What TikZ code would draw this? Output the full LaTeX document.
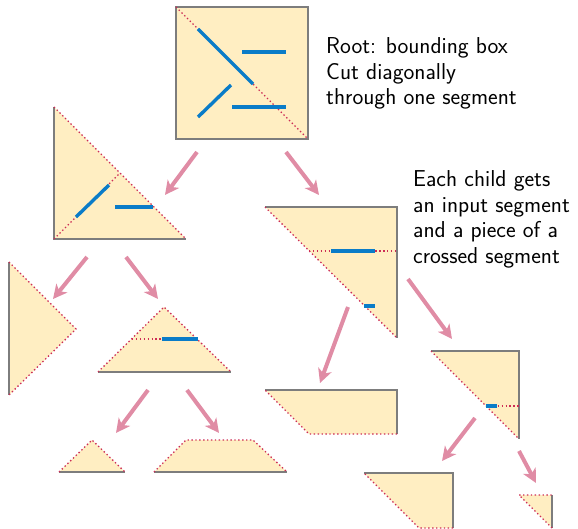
\documentclass[tikz,border=0pt]{standalone}
\usetikzlibrary{arrows.meta}
\definecolor{piecefill}{RGB}{255,238,194}
\definecolor{edgegray}{RGB}{125,125,125}
\definecolor{cutred}{RGB}{205,45,85}
\definecolor{segblue}{RGB}{10,124,200}
\definecolor{arrowpink}{RGB}{224,140,165}
\tikzset{
  piece/.style={fill=piecefill, draw=none},
  border/.style={draw=edgegray, line width=1.3pt},
  cutline/.style={draw=cutred, line width=1.3pt, dash pattern=on 1.4pt off 2.5pt},
  segment/.style={draw=segblue, line width=3.4pt},
  childarrow/.style={draw=arrowpink, line width=4pt,
    -{Stealth[length=14pt,width=14pt,inset=4pt]}},
  caption/.style={font=\sffamily\fontsize{23}{25.9}\selectfont, align=left, inner sep=0pt, anchor=north west}
}
\begin{document}
\begin{tikzpicture}[x=1pt,y=-1pt]
\useasboundingbox (0,0) rectangle (578,529);

% ---- root: bounding box, cut along its diagonal
\fill[piece] (176,7) rectangle (308,139);
\draw[border] (176,7) rectangle (308,139);
\draw[cutline] (176,7) -- (308,139);
\draw[segment] (198,29) -- (253,84);
\draw[segment] (242,52) -- (286,52);
\draw[segment] (198,117) -- (231,85);
\draw[segment] (232,107) -- (286,107);

% ---- left child: lower-left triangle
\fill[piece] (54,107) -- (54,239) -- (186,239) -- cycle;
\draw[border] (54,107) -- (54,239) -- (186,239);
\draw[cutline] (54,107) -- (186,239);
\draw[cutline] (54,239) -- (120,173);
\draw[segment] (76,217) -- (109,185);
\draw[segment] (115,207) -- (153,207);

% ---- right child: upper-right triangle
\fill[piece] (265,207) -- (397,207) -- (397,338) -- cycle;
\draw[border] (265,207) -- (397,207) -- (397,338);
\draw[cutline] (265,207) -- (397,338);
\draw[cutline] (309,251) -- (397,251);
\draw[segment] (331,251) -- (375,251);
\draw[segment] (364,306) -- (375,306);

% ---- third level, left branch
\fill[piece] (9,262) -- (76,329) -- (9,395) -- cycle;
\draw[border] (9,262) -- (9,395);
\draw[cutline] (9,262) -- (76,329) -- (9,395);

\fill[piece] (164,307) -- (98,372) -- (231,372) -- cycle;
\draw[border] (98,372) -- (231,372);
\draw[cutline] (98,372) -- (164,307) -- (231,372);
\draw[cutline] (132,339) -- (197,339);
\draw[segment] (162,339) -- (198,339);

% ---- third level, right branch
\fill[piece] (265,390) -- (397,390) -- (397,434) -- (309,434) -- cycle;
\draw[border] (265,390) -- (397,390) -- (397,434);
\draw[cutline] (397,434) -- (309,434) -- (265,390);

\fill[piece] (431,351) -- (519,351) -- (519,439) -- cycle;
\draw[border] (431,351) -- (519,351) -- (519,439);
\draw[cutline] (431,351) -- (519,439);
\draw[cutline] (486,406) -- (519,406);
\draw[segment] (486,406) -- (497,406);

% ---- fourth level
\fill[piece] (92,440) -- (59,472) -- (125,472) -- cycle;
\draw[border] (59,472) -- (125,472);
\draw[cutline] (59,472) -- (92,440) -- (125,472);

\fill[piece] (154,472) -- (186,440) -- (253,440) -- (287,472) -- cycle;
\draw[border] (154,472) -- (287,472);
\draw[cutline] (154,472) -- (186,440) -- (253,440) -- (287,472);

\fill[piece] (364,473) -- (453,473) -- (453,528) -- (419,528) -- cycle;
\draw[border] (364,473) -- (453,473) -- (453,528);
\draw[cutline] (453,528) -- (419,528) -- (364,473);

\fill[piece] (519,495) -- (552,495) -- (552,528) -- cycle;
\draw[border] (552,495) -- (552,528);
\draw[cutline] (552,528) -- (519,495) -- (552,495);

% ---- arrow end points
\coordinate (rootL) at (197,152);   \coordinate (leftIn) at (165,195);
\coordinate (rootR) at (286,152);   \coordinate (rightIn) at (319,195);
\coordinate (leftL) at (87,257);    \coordinate (llIn) at (53,299);
\coordinate (leftR) at (126,257);   \coordinate (lrIn) at (158,299);
\coordinate (rightL) at (348,307);  \coordinate (rlIn) at (320,383);
\coordinate (rightR) at (408,279);  \coordinate (rrIn) at (452,339);
\coordinate (lrL) at (148,390);     \coordinate (lrlIn) at (116,433);
\coordinate (lrR) at (187,390);     \coordinate (lrrIn) at (219,433);
\coordinate (rrL) at (475,418);     \coordinate (rrlIn) at (442,461);
\coordinate (rrR) at (519,451);     \coordinate (rrrIn) at (536,483);

\draw[childarrow] (rootL) -- (leftIn);
\draw[childarrow] (rootR) -- (rightIn);
\draw[childarrow] (leftL) -- (llIn);
\draw[childarrow] (leftR) -- (lrIn);
\draw[childarrow] (rightL) -- (rlIn);
\draw[childarrow] (rightR) -- (rrIn);
\draw[childarrow] (lrL) -- (lrlIn);
\draw[childarrow] (lrR) -- (lrrIn);
\draw[childarrow] (rrL) -- (rrlIn);
\draw[childarrow] (rrR) -- (rrrIn);

% ---- captions
\node[caption] (rootnote) at (326,37) {Root: bounding box\\Cut diagonally\\through one segment};
\node[caption] (childnote) at (413,170) {Each child gets\\an input segment\\and a piece of a\\crossed segment};
\end{tikzpicture}
\end{document}
